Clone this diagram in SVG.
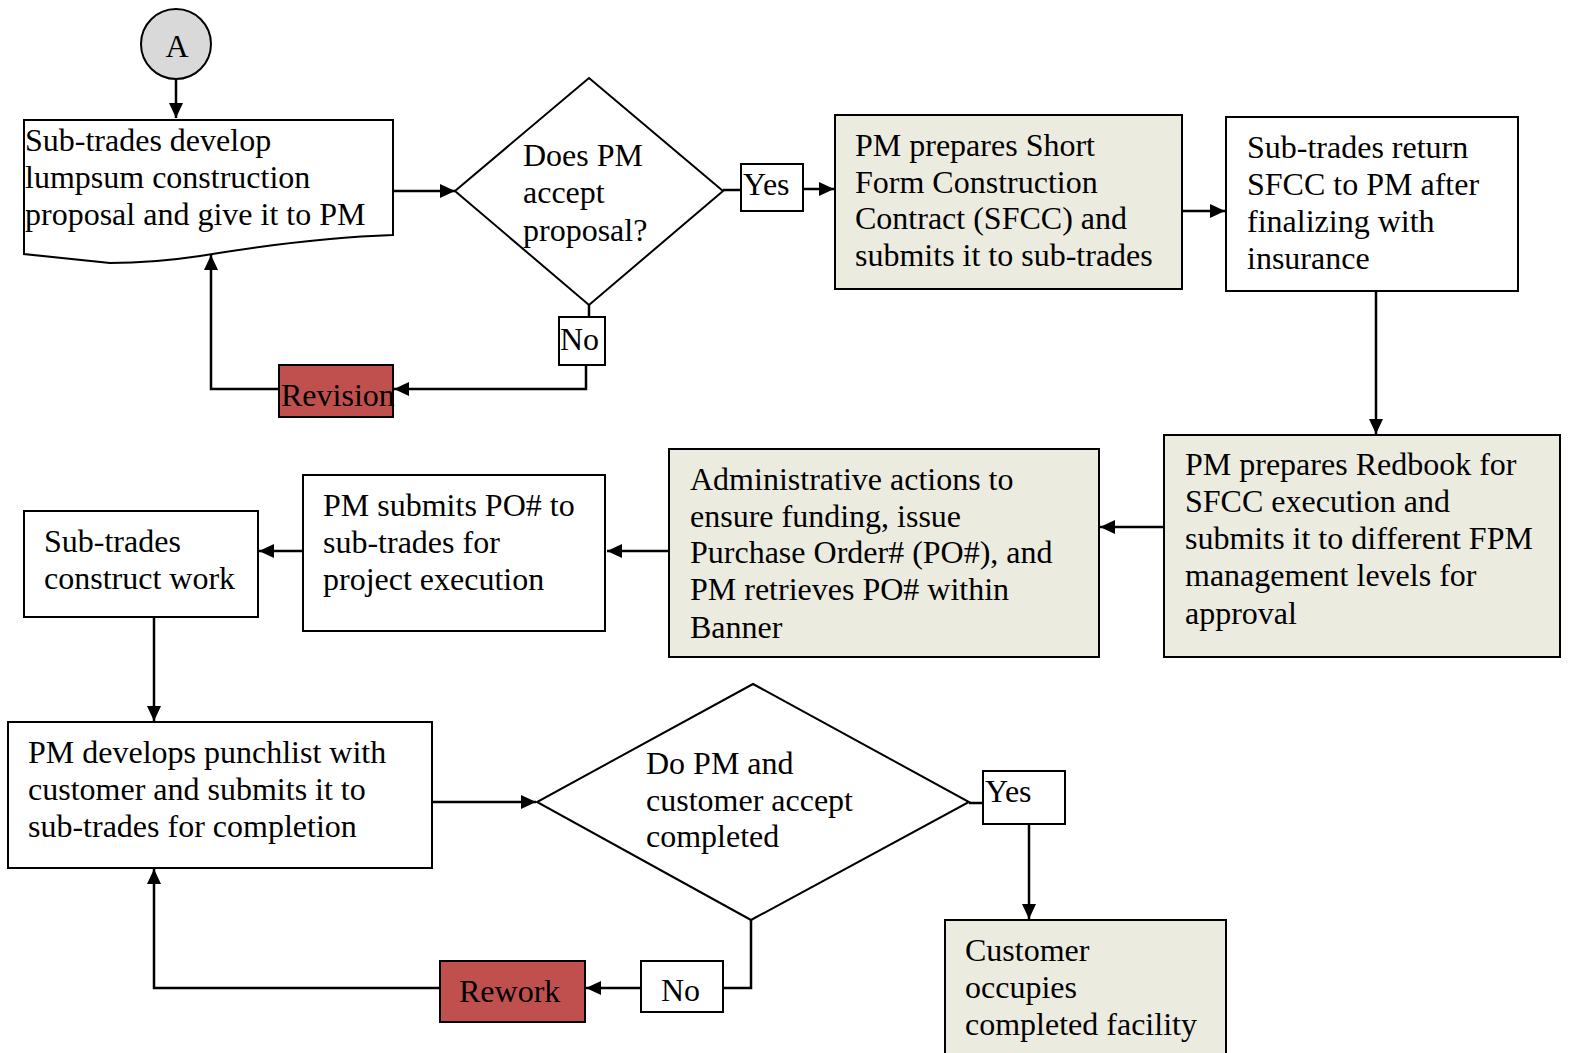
<svg xmlns="http://www.w3.org/2000/svg" width="1570" height="1053" viewBox="0 0 1570 1053">
  <style>
    .box { fill: #ffffff; stroke: #000; stroke-width: 2; }
    .tan { fill: #ecebe0; stroke: #000; stroke-width: 2; }
    .red { fill: #c0504d; stroke: #000; stroke-width: 2; }
    .term { fill: #d9d9d9; stroke: #000; stroke-width: 2; }
    .t { font-family: "Liberation Serif", "Times New Roman", serif; font-size: 32px; fill: #000; }
    .c { fill: none; stroke: #000; stroke-width: 2.5; }
  </style>
  <defs>
    <marker id="ah" viewBox="0 0 15 14" refX="15" refY="7" markerWidth="15" markerHeight="14" markerUnits="userSpaceOnUse" orient="auto">
      <path d="M0,0 L15,7 L0,14 z" fill="#000"/>
    </marker>
  </defs>
  <rect width="1570" height="1053" fill="#ffffff"/>

  <!-- connectors -->
  <g id="connectors">
    <path class="c" d="M176,80 V118" marker-end="url(#ah)"/>
    <path class="c" d="M393,191 H455" marker-end="url(#ah)"/>
    <path class="c" d="M723,190 H741"/>
    <path class="c" d="M803,189 H834" marker-end="url(#ah)"/>
    <path class="c" d="M589,305 V317"/>
    <path class="c" d="M586,365 V389 H394" marker-end="url(#ah)"/>
    <path class="c" d="M279,389 H211 V255" marker-end="url(#ah)"/>
    <path class="c" d="M1182,211 H1225" marker-end="url(#ah)"/>
    <path class="c" d="M1376,291 V434" marker-end="url(#ah)"/>
    <path class="c" d="M1164,527 H1100" marker-end="url(#ah)"/>
    <path class="c" d="M669,551 H607" marker-end="url(#ah)"/>
    <path class="c" d="M303,551 H259" marker-end="url(#ah)"/>
    <path class="c" d="M154,617 V721" marker-end="url(#ah)"/>
    <path class="c" d="M432,802 H536" marker-end="url(#ah)"/>
    <path class="c" d="M969,803 H983"/>
    <path class="c" d="M1029,824 V919" marker-end="url(#ah)"/>
    <path class="c" d="M751,920 V988 H723"/>
    <path class="c" d="M641,988 H586" marker-end="url(#ah)"/>
    <path class="c" d="M440,988 H154 V869" marker-end="url(#ah)"/>
  </g>

  <!-- start terminal -->
  <g id="start-a">
    <circle class="term" cx="176" cy="44" r="35"/>
    <text class="t" x="177" y="57" text-anchor="middle">A</text>
  </g>

  <g id="proposal">
    <path class="box" d="M24,120 H393 V235 C330,237 260,246 200,256 C160,262 130,263 110,263 L24,254 Z"/>
    <text class="t"><tspan x="25" y="151">Sub-trades develop</tspan><tspan x="25" y="188">lumpsum construction</tspan><tspan x="25" y="225">proposal and give it to PM</tspan></text>
  </g>

  <g id="decision-accept">
    <path class="box" d="M589,78 L723,191 L589,305 L455,191 Z"/>
    <text class="t"><tspan x="523" y="166">Does PM</tspan><tspan x="523" y="203">accept</tspan><tspan x="523" y="241">proposal?</tspan></text>
  </g>

  <g id="label-yes-1">
    <rect class="box" x="741" y="164" width="62" height="47"/>
    <text class="t" x="743" y="195">Yes</text>
  </g>

  <g id="label-no-1">
    <rect class="box" x="559" y="317" width="46" height="48"/>
    <text class="t" x="560" y="350">No</text>
  </g>

  <g id="revision">
    <rect class="red" x="279" y="365" width="114" height="52"/>
    <text class="t" x="281" y="406">Revision</text>
  </g>

  <g id="sfcc">
    <rect class="tan" x="835" y="115" width="347" height="174"/>
    <text class="t"><tspan x="855" y="156">PM prepares Short</tspan><tspan x="855" y="193">Form Construction</tspan><tspan x="855" y="229">Contract (SFCC) and</tspan><tspan x="855" y="266">submits it to sub-trades</tspan></text>
  </g>

  <g id="return-sfcc">
    <rect class="box" x="1226" y="117" width="292" height="174"/>
    <text class="t"><tspan x="1247" y="158">Sub-trades return</tspan><tspan x="1247" y="195">SFCC to PM after</tspan><tspan x="1247" y="232">finalizing with</tspan><tspan x="1247" y="269">insurance</tspan></text>
  </g>

  <g id="redbook">
    <rect class="tan" x="1164" y="435" width="396" height="222"/>
    <text class="t"><tspan x="1185" y="475">PM prepares Redbook for</tspan><tspan x="1185" y="512">SFCC execution and</tspan><tspan x="1185" y="549">submits it to different FPM</tspan><tspan x="1185" y="586">management levels for</tspan><tspan x="1185" y="624">approval</tspan></text>
  </g>

  <g id="admin">
    <rect class="tan" x="669" y="449" width="430" height="208"/>
    <text class="t"><tspan x="690" y="490">Administrative actions to</tspan><tspan x="690" y="527">ensure funding, issue</tspan><tspan x="690" y="563">Purchase Order# (PO#), and</tspan><tspan x="690" y="600">PM retrieves PO# within</tspan><tspan x="690" y="638">Banner</tspan></text>
  </g>

  <g id="submit-po">
    <rect class="box" x="303" y="475" width="302" height="156"/>
    <text class="t"><tspan x="323" y="516">PM submits PO# to</tspan><tspan x="323" y="553">sub-trades for</tspan><tspan x="323" y="590">project execution</tspan></text>
  </g>

  <g id="construct">
    <rect class="box" x="24" y="511" width="234" height="106"/>
    <text class="t"><tspan x="44" y="552">Sub-trades</tspan><tspan x="44" y="589">construct work</tspan></text>
  </g>

  <g id="punchlist">
    <rect class="box" x="8" y="722" width="424" height="146"/>
    <text class="t"><tspan x="28" y="763">PM develops punchlist with</tspan><tspan x="28" y="800">customer and submits it to</tspan><tspan x="28" y="837">sub-trades for completion</tspan></text>
  </g>

  <g id="decision-complete">
    <path class="box" d="M753,684 L969,802 L751,920 L537,802 Z"/>
    <text class="t"><tspan x="646" y="774">Do PM and</tspan><tspan x="646" y="811">customer accept</tspan><tspan x="646" y="847">completed</tspan></text>
  </g>

  <g id="label-yes-2">
    <rect class="box" x="983" y="771" width="82" height="53"/>
    <text class="t" x="985" y="802">Yes</text>
  </g>

  <g id="label-no-2">
    <rect class="box" x="641" y="961" width="82" height="51"/>
    <text class="t" x="661" y="1001">No</text>
  </g>

  <g id="rework">
    <rect class="red" x="440" y="961" width="145" height="61"/>
    <text class="t" x="459" y="1002">Rework</text>
  </g>

  <g id="occupy">
    <rect class="tan" x="945" y="920" width="281" height="140"/>
    <text class="t"><tspan x="965" y="961">Customer</tspan><tspan x="965" y="998">occupies</tspan><tspan x="965" y="1035">completed facility</tspan></text>
  </g>
</svg>
